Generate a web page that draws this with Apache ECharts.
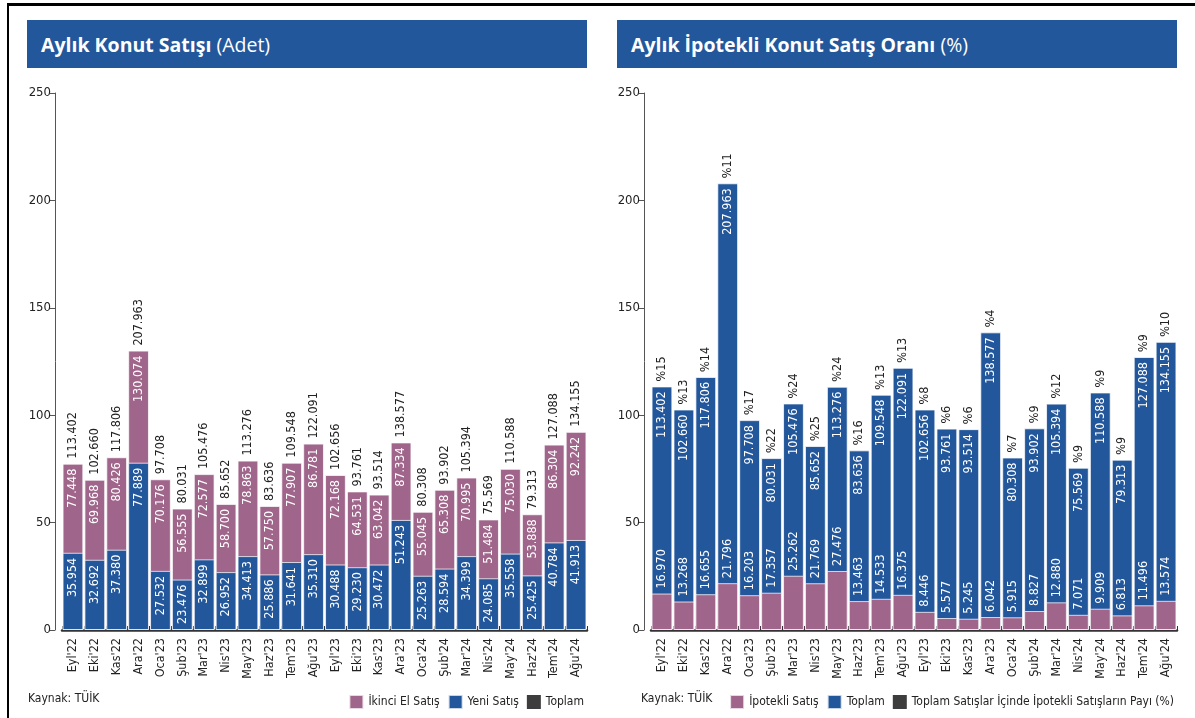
<!DOCTYPE html>
<html>
<head>
<meta charset="utf-8">
<script src="https://cdn.jsdelivr.net/npm/echarts@6/dist/echarts.min.js"></script>
<style>
	body { margin: 0; background: #fff; }
	.page { position: relative; width: 1195px; height: 718px; overflow: hidden; }
	.frame { position: absolute; left: 7px; top: 3px; right: -5px; bottom: -5px; border-top: 3px solid #000; border-left: 2px solid #000; }
	.titlebar {
		position: absolute; top: 20px; width: 546px; height: 48px; line-height: 50px;
		background: #23579b; color: #fff; padding-left: 14px;
		font-family: "Open Sans", "Noto Sans", sans-serif; font-size: 19.5px;
	}
	.titlebar b { font-weight: 700; }
	.source {
		position: absolute; top: 691px; font-size: 12px; color: #222;
		font-family: "Liberation Sans Narrow", "DejaVu Sans Condensed", sans-serif;
	}
	#leftChart { position: absolute; left: 0; top: 0; width: 598px; height: 718px; }
	#rightChart { position: absolute; left: 598px; top: 0; width: 597px; height: 718px; }
</style>
</head>
<body>
<div class="page">
	<div class="frame"></div>
	<div class="titlebar" style="left:27px"><b>Aylık Konut Satışı</b> (Adet)</div>
	<div class="titlebar" style="left:617px"><b>Aylık İpotekli Konut Satış Oranı</b> (%)</div>
	<div id="leftChart"></div>
	<div id="rightChart"></div>
	<div class="source" style="left:28px">Kaynak: TÜİK</div>
	<div class="source" style="left:641px">Kaynak: TÜİK</div>
</div>
<script>
// aylar
const months = ["Eyl'22", "Eki'22", "Kas'22", "Ara'22", "Oca'23", "Şub'23", "Mar'23", "Nis'23", "May'23", "Haz'23", "Tem'23", "Ağu'23",
	"Eyl'23", "Eki'23", "Kas'23", "Ara'23", "Oca'24", "Şub'24", "Mar'24", "Nis'24", "May'24", "Haz'24", "Tem'24", "Ağu'24"];

// bin adet
const yeniSatis = [35.954, 32.692, 37.380, 77.889, 27.532, 23.476, 32.899, 26.952, 34.413, 25.886, 31.641, 35.310,
	30.488, 29.230, 30.472, 51.243, 25.263, 28.594, 34.399, 24.085, 35.558, 25.425, 40.784, 41.913];
const ikinciEl = [77.448, 69.968, 80.426, 130.074, 70.176, 56.555, 72.577, 58.700, 78.863, 57.750, 77.907, 86.781,
	72.168, 64.531, 63.042, 87.334, 55.045, 65.308, 70.995, 51.484, 75.030, 53.888, 86.304, 92.242];
const toplam = [113.402, 102.660, 117.806, 207.963, 97.708, 80.031, 105.476, 85.652, 113.276, 83.636, 109.548, 122.091,
	102.656, 93.761, 93.514, 138.577, 80.308, 93.902, 105.394, 75.569, 110.588, 79.313, 127.088, 134.155];
const ipotekli = [16.970, 13.268, 16.655, 21.796, 16.203, 17.357, 25.262, 21.769, 27.476, 13.463, 14.533, 16.375,
	8.446, 5.577, 5.245, 6.042, 5.915, 8.827, 12.880, 7.071, 9.909, 6.813, 11.496, 13.574];
// ipotekli payı (%)
const ipotekliPay = [15, 13, 14, 11, 17, 22, 24, 25, 24, 16, 13, 13, 8, 6, 6, 4, 7, 9, 12, 9, 9, 9, 9, 10];

const BLUE = "#23579b";
const PINK = "#a0658a";
const DARK = "#3d3d3d";
const FONT = "'Liberation Sans Narrow', 'DejaVu Sans Condensed', sans-serif";

const fmt = v => v.toFixed(3);

// iki grafik için ortak eksenler
const makeAxes = () => ({
	xAxis: {
		type: "category",
		data: months,
		axisLine: { lineStyle: { color: "#333", width: 2.5 } },
		axisTick: { show: true, inside: true, length: 4, lineStyle: { color: "#333" } },
		axisLabel: { rotate: 90, color: "#222", fontSize: 12.5, fontFamily: FONT, margin: 8, interval: 0 },
	},
	yAxis: {
		type: "value",
		min: 0,
		max: 250,
		interval: 50,
		offset: 7,
		splitLine: { show: false },
		axisLine: { show: true, lineStyle: { color: "#555" } },
		axisTick: { show: true, length: 5, lineStyle: { color: "#555" } },
		axisLabel: { color: "#222", fontSize: 13, fontFamily: FONT, margin: 4 },
	},
});

const insideLabel = {
	show: true, position: "insideTop", rotate: 90, align: "right", verticalAlign: "middle",
	distance: 5, color: "#fff", fontSize: 12.5, fontFamily: FONT,
	formatter: p => fmt(p.value),
};

const legendBase = {
	top: 689, itemWidth: 14, itemHeight: 14, itemGap: 8, icon: "rect",
	textStyle: { color: "#222", fontSize: 12, fontFamily: FONT },
	selectedMode: false,
};

// Aylık konut satışı
const drawLeft = () => {
	let myChart = echarts.init(document.getElementById("leftChart"));
	myChart.setOption({
		animation: false,
		grid: { left: 62, right: 11, top: 93, bottom: 88 },
		...makeAxes(),
		legend: {
			...legendBase,
			right: 9,
			data: ["İkinci El Satış", "Yeni Satış", { name: "Toplam", itemStyle: { color: DARK } }],
		},
		series: [
			{
				name: "İkinci El Satış",
				type: "bar",
				data: ikinciEl,
				barGap: "-100%",
				barCategoryGap: "5%",
				itemStyle: { color: PINK, borderColor: "rgba(255,255,255,0.75)", borderWidth: 1 },
				label: insideLabel,
			},
			{
				name: "Yeni Satış",
				type: "bar",
				data: yeniSatis,
				barGap: "-100%",
				barCategoryGap: "5%",
				itemStyle: { color: BLUE, borderColor: "rgba(255,255,255,0.75)", borderWidth: 1 },
				label: insideLabel,
			},
			{
				// toplam etiketi, ikinci el çubuğunun üstünde
				name: "Toplam",
				type: "bar",
				data: ikinciEl,
				barGap: "-100%",
				barCategoryGap: "5%",
				silent: true,
				itemStyle: { color: "rgba(0,0,0,0)" },
				label: {
					show: true, position: "top", rotate: 90, align: "left", verticalAlign: "middle",
					distance: 5, color: "#222", fontSize: 12.5, fontFamily: FONT,
					formatter: p => fmt(toplam[p.dataIndex]),
				},
			},
		],
	});
};

// ipotekli satış oranı
const drawRight = () => {
	let myChart = echarts.init(document.getElementById("rightChart"));
	myChart.setOption({
		animation: false,
		grid: { left: 53, right: 18, top: 93, bottom: 88 },
		...makeAxes(),
		legend: {
			...legendBase,
			right: 16,
			data: ["İpotekli Satış", "Toplam", { name: "Toplam Satışlar İçinde İpotekli Satışların Payı (%)", itemStyle: { color: DARK } }],
		},
		series: [
			{
				name: "Toplam",
				type: "bar",
				data: toplam,
				barGap: "-100%",
				barCategoryGap: "5%",
				itemStyle: { color: BLUE, borderColor: "rgba(255,255,255,0.75)", borderWidth: 1 },
				label: insideLabel,
			},
			{
				name: "İpotekli Satış",
				type: "bar",
				data: ipotekli,
				barGap: "-100%",
				barCategoryGap: "5%",
				itemStyle: { color: PINK, borderColor: "rgba(255,255,255,0.75)", borderWidth: 1 },
				label: {
					show: true, position: "top", rotate: 90, align: "left", verticalAlign: "middle",
					distance: 5, color: "#fff", fontSize: 12.5, fontFamily: FONT,
					formatter: p => fmt(p.value),
				},
			},
			{
				name: "Toplam Satışlar İçinde İpotekli Satışların Payı (%)",
				type: "bar",
				data: toplam,
				barGap: "-100%",
				barCategoryGap: "5%",
				silent: true,
				itemStyle: { color: "rgba(0,0,0,0)" },
				label: {
					show: true, position: "top", rotate: 90, align: "left", verticalAlign: "middle",
					distance: 5, color: "#222", fontSize: 12.5, fontFamily: FONT,
					formatter: p => "%" + ipotekliPay[p.dataIndex],
				},
			},
		],
	});
};

drawLeft();
drawRight();
</script>
</body>
</html>
